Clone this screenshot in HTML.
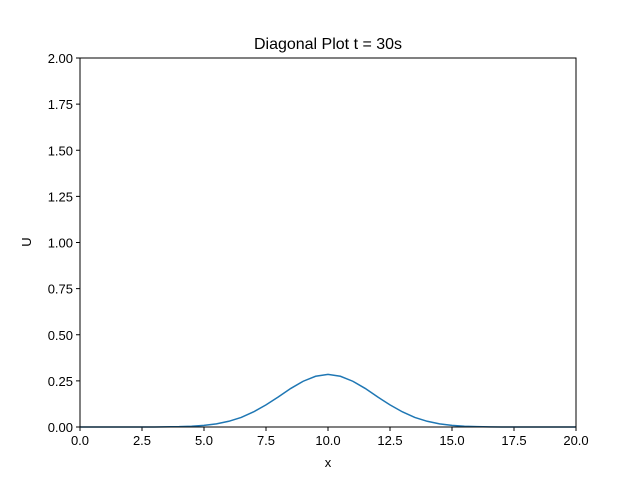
<!DOCTYPE html>
<html><head><meta charset="utf-8"><style>
body{margin:0;background:#fff;}
svg{display:block;font-family:"Liberation Sans","DejaVu Sans",sans-serif;}
</style></head><body>
<svg id="chart" width="640" height="480" viewBox="0 0 640 480">
<rect width="640" height="480" fill="#fff"/>
<text x="328" y="49" text-anchor="middle" font-size="16">Diagonal Plot t = 30s</text>
<g id="ticks"></g>
<path id="curve" fill="none" stroke="#1f77b4" stroke-width="1.5"/>
<rect x="80" y="58" width="496" height="369" fill="none" stroke="#000" stroke-width="1"/>
<text x="328" y="467" text-anchor="middle" font-size="13">x</text>
<text transform="translate(31,242) rotate(-90)" text-anchor="middle" font-size="13">U</text>
</svg>
<script>
const xTicks=[0,2.5,5,7.5,10,12.5,15,17.5,20];
const xTickLabels=["0.0","2.5","5.0","7.5","10.0","12.5","15.0","17.5","20.0"];
const yTicks=[0,0.25,0.5,0.75,1,1.25,1.5,1.75,2];
const yTickLabels=["0.00","0.25","0.50","0.75","1.00","1.25","1.50","1.75","2.00"];
const xs=[0,1,2,3,4,4.5,5,5.5,6,6.5,7,7.5,8,8.5,9,9.5,10,10.5,11,11.5,12,12.5,13,13.5,14,14.5,15,15.5,16,16.5,17,18,19,20];
const us=[0,0,0,0.0001,0.0019,0.0043,0.0089,0.017,0.031,0.052,0.082,0.120,0.163,0.209,0.248,0.275,0.285,0.275,0.248,0.209,0.163,0.120,0.082,0.052,0.031,0.017,0.0089,0.0043,0.0019,0.0008,0.0003,0,0,0];
const X0=80,X1=576,Y0=427,Y1=58;
const sx=v=>X0+(v-0)/(20-0)*(X1-X0);
const sy=v=>Y0-(v-0)/(2-0)*(Y0-Y1);
const NS="http://www.w3.org/2000/svg";
const g=document.getElementById('ticks');
function mk(tag,attrs){const e=document.createElementNS(NS,tag);for(const k in attrs)e.setAttribute(k,attrs[k]);return e;}
xTicks.forEach((v,i)=>{
 const l=mk('line',{x1:sx(v),x2:sx(v),y1:Y0,y2:Y0+4,stroke:'#000'});
 
 
 g.appendChild(l);
 const t=mk('text',{x:sx(v),y:Y0+18,'text-anchor':'middle','font-size':'13'});
 t.textContent=xTickLabels[i];
 
 
 g.appendChild(t);
});
yTicks.forEach((v,i)=>{
 const l=mk('line',{x1:X0-4,x2:X0,y1:sy(v),y2:sy(v),stroke:'#000'});
 
 
 g.appendChild(l);
 const t=mk('text',{x:X0-7,y:sy(v)+5,'text-anchor':'end','font-size':'13'});
 t.textContent=yTickLabels[i];
 
 
 g.appendChild(t);
});
document.getElementById('curve').setAttribute('d',xs.map((x,i)=>(i?'L':'M')+sx(x).toFixed(2)+','+sy(us[i]).toFixed(2)).join(' '));
</script>
</body></html>
